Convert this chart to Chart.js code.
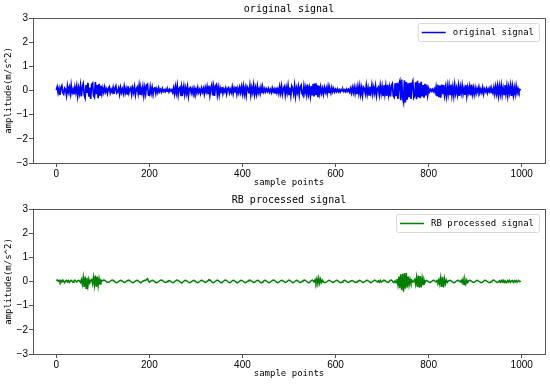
<!DOCTYPE html>
<html><head><meta charset="utf-8">
<script src="https://cdn.jsdelivr.net/npm/chart.js@4/dist/chart.umd.min.js"></script>
<style>
html,body{margin:0;padding:0;background:#fff;width:550px;height:384px;overflow:hidden}
.box{position:absolute;left:0;width:550px;height:192px}
</style></head><body>
<div class="box" style="top:0"><canvas id="c1" width="550" height="192"></canvas></div>
<div class="box" style="top:192px"><canvas id="c2" width="550" height="192"></canvas></div>
<script>
// values listed for every 2nd sample point (0, 2, 4, ... 998)
const sampleStep = 2;
const xTicks = [0, 200, 400, 600, 800, 1000];
const yTicks = [-3, -2, -1, 0, 1, 2, 3];
const titles = ["original signal", "RB processed signal"];
const seriesLabels = ["original signal", "RB processed signal"];
const xLabel = "sample points";
const yLabel = "amplitude(m/s^2)";

const originalSignal = [
 0.02, 0.15,-0.10, 0.08,-0.18, 0.12, 0.20,-0.08,-0.15, 0.10, 0.05,-0.20, 0.18,-0.06, 0.12,-0.14, 0.22,-0.10, 0.04,-0.16, 0.14,-0.08, 0.18,-0.22, 0.10,
-0.12, 0.20,-0.25, 0.15, 0.28,-0.18,-0.30, 0.22,-0.10, 0.32,-0.26, 0.12,-0.35, 0.25, 0.30,-0.20,-0.28, 0.35,-0.15, 0.22,-0.32, 0.28,-0.18, 0.20,-0.12,
 0.10,-0.08, 0.14,-0.05, 0.06,-0.12, 0.08, 0.15,-0.10, 0.04,-0.06, 0.12,-0.14, 0.08, 0.18,-0.10,-0.04, 0.10,-0.15, 0.12,-0.08, 0.06,-0.12, 0.16,-0.10,
 0.08,-0.14, 0.18,-0.10, 0.05, 0.12,-0.16, 0.10,-0.08, 0.15,-0.18, 0.06, 0.14,-0.12, 0.20,-0.15, 0.08,-0.10, 0.16,-0.20, 0.12,-0.14, 0.22, 0.26,-0.18,
-0.20, 0.15,-0.10, 0.12,-0.16, 0.08, 0.14,-0.12, 0.06,-0.08, 0.10,-0.05, 0.04,-0.06, 0.08,-0.04, 0.02,-0.05, 0.06,-0.03, 0.04,-0.06, 0.05,-0.02, 0.03,
-0.08, 0.10,-0.14, 0.16,-0.10, 0.20,-0.18, 0.08, 0.14,-0.20, 0.12,-0.06, 0.18,-0.16, 0.10,-0.12, 0.15,-0.22, 0.08, 0.12,-0.10, 0.06,-0.14, 0.10,-0.08,
 0.06,-0.10, 0.12,-0.08, 0.04,-0.12, 0.10,-0.06, 0.08,-0.14, 0.12,-0.05, 0.16,-0.12, 0.20,-0.18, 0.10, 0.24,-0.20, 0.15,-0.22, 0.18, 0.25,-0.16, 0.12,
-0.18, 0.10,-0.08, 0.14,-0.12, 0.06,-0.05, 0.10,-0.14, 0.08, 0.12,-0.10, 0.04,-0.08, 0.14,-0.12, 0.10,-0.06, 0.16,-0.14, 0.08,-0.10, 0.12,-0.08, 0.15,
-0.12, 0.18,-0.15, 0.10,-0.20, 0.16, 0.08,-0.12, 0.20,-0.18, 0.12,-0.08, 0.22,-0.16, 0.10,-0.14, 0.18,-0.10, 0.06,-0.12, 0.14,-0.08, 0.10,-0.06, 0.08,
-0.05, 0.06,-0.04, 0.08,-0.06, 0.04,-0.08, 0.10,-0.05, 0.06,-0.10, 0.12,-0.08, 0.06,-0.12, 0.15,-0.10, 0.18,-0.14, 0.08, 0.16,-0.18, 0.12,-0.10, 0.20,
-0.16, 0.12,-0.20, 0.18, 0.08,-0.14, 0.20,-0.22, 0.10,-0.08, 0.16,-0.18, 0.14, 0.22,-0.12,-0.20, 0.18,-0.10, 0.12,-0.16, 0.24,-0.14, 0.10,-0.22, 0.18,
-0.20, 0.28,-0.25, 0.30,-0.18, 0.22,-0.28, 0.20,-0.12, 0.14,-0.10, 0.08,-0.15, 0.12,-0.06, 0.10,-0.12, 0.16,-0.08, 0.06,-0.10, 0.12,-0.05, 0.08,-0.06,
 0.05,-0.04, 0.06,-0.05, 0.03,-0.06, 0.04,-0.02, 0.05,-0.04, 0.03,-0.05, 0.06,-0.03, 0.04,-0.06, 0.08,-0.10, 0.12,-0.08, 0.14,-0.12, 0.10,-0.15, 0.16,
-0.12, 0.18,-0.16, 0.10,-0.20, 0.14, 0.08,-0.12, 0.20,-0.15, 0.10,-0.18, 0.16,-0.08, 0.22,-0.14, 0.12,-0.10, 0.18,-0.20, 0.08, 0.14,-0.16, 0.20,-0.12,
 0.16,-0.20, 0.22,-0.14, 0.18,-0.22, 0.24,-0.16, 0.12,-0.25, 0.20, 0.28,-0.22,-0.28, 0.30,-0.20, 0.32,-0.35, 0.25, 0.38,-0.40, 0.45,-0.30,-0.48, 0.42,
-0.50, 0.35,-0.38, 0.30,-0.28, 0.32,-0.35, 0.25, 0.38,-0.30,-0.22, 0.34,-0.36, 0.40,-0.28, 0.30,-0.32, 0.36,-0.25, 0.22,-0.30, 0.28,-0.20, 0.24,-0.18,
 0.08,-0.05, 0.04,-0.03, 0.05,-0.04, 0.06,-0.08, 0.15,-0.20, 0.24,-0.28, 0.20,-0.30, 0.25,-0.15, 0.22,-0.18, 0.12,-0.22, 0.18,-0.14, 0.20,-0.16, 0.24,
-0.18, 0.14,-0.20, 0.22,-0.12, 0.10,-0.16, 0.18,-0.22, 0.15,-0.10, 0.20,-0.14, 0.08,-0.18, 0.22,-0.20, 0.12,-0.08, 0.16,-0.20, 0.24,-0.14, 0.10,-0.16,
 0.10,-0.12, 0.08,-0.06, 0.14,-0.10, 0.05,-0.08, 0.12,-0.14, 0.06,-0.04, 0.08,-0.10, 0.06,-0.05, 0.10,-0.08, 0.04,-0.10, 0.12,-0.14, 0.16,-0.12, 0.18,
-0.20, 0.16,-0.14, 0.20,-0.18, 0.10,-0.16, 0.22,-0.12, 0.18,-0.20, 0.14,-0.10, 0.20,-0.22, 0.16,-0.18, 0.12,-0.14, 0.18,-0.10, 0.08,-0.06, 0.04, 0.02
];

const processedSignal = [
 0.04, 0.06, 0.01, 0.05,-0.03, 0.04,-0.02, 0.06, 0.00,-0.05, 0.03, 0.05,-0.02, 0.04,-0.04, 0.02, 0.05, 0.01,-0.03, 0.04, 0.06, 0.02,-0.02, 0.03, 0.05,
 0.02,-0.04, 0.08,-0.12, 0.18,-0.22, 0.20,-0.28, 0.15,-0.18, 0.10,-0.06, 0.05, 0.08,-0.10, 0.18,-0.15, 0.25,-0.22, 0.20,-0.18, 0.12,-0.10, 0.06, 0.02,
 0.04, 0.06, 0.05, 0.02,-0.01,-0.03,-0.04,-0.02, 0.01, 0.04, 0.06, 0.05, 0.02,-0.02,-0.04,-0.05,-0.03, 0.00, 0.03, 0.05, 0.04, 0.01,-0.02,-0.04,-0.03,
 0.00, 0.03, 0.05, 0.06, 0.03, 0.00,-0.03,-0.05,-0.04,-0.01, 0.02, 0.04, 0.05, 0.03,-0.01,-0.03,-0.04,-0.02, 0.01, 0.03, 0.05, 0.04, 0.08, 0.12, 0.02,
-0.02, 0.00, 0.03, 0.05, 0.04, 0.01,-0.02,-0.04,-0.05,-0.03, 0.00, 0.03, 0.05, 0.06, 0.04, 0.01,-0.02,-0.04,-0.03,-0.01, 0.02, 0.04, 0.03, 0.00,-0.03,
-0.05,-0.04,-0.01, 0.02, 0.05, 0.06, 0.04, 0.01,-0.02,-0.04,-0.05,-0.02, 0.01, 0.04, 0.05, 0.03, 0.00,-0.03,-0.05,-0.04,-0.01, 0.02, 0.04, 0.05, 0.02,
-0.01,-0.04,-0.05,-0.03, 0.00, 0.03, 0.05, 0.04, 0.01,-0.02,-0.04,-0.03, 0.00, 0.04, 0.07, 0.06, 0.03,-0.01,-0.04,-0.05,-0.02, 0.01, 0.04, 0.06, 0.04,
 0.01,-0.02,-0.05,-0.04,-0.01, 0.02, 0.05, 0.06, 0.03, 0.00,-0.03,-0.05,-0.04,-0.01, 0.03, 0.05, 0.04, 0.01,-0.02,-0.04,-0.05,-0.02, 0.01, 0.04, 0.05,
 0.03, 0.00,-0.03,-0.05,-0.04,-0.01, 0.02, 0.05, 0.06, 0.04, 0.01,-0.02,-0.04,-0.03, 0.00, 0.03, 0.05, 0.04, 0.01,-0.03,-0.05,-0.04,-0.01, 0.03, 0.05,
 0.04, 0.01,-0.02,-0.04,-0.05,-0.02, 0.01, 0.04, 0.06, 0.05, 0.02,-0.01,-0.04,-0.05,-0.03, 0.00, 0.03, 0.05, 0.04, 0.01,-0.02,-0.04,-0.03, 0.00, 0.04,
 0.06, 0.04, 0.01,-0.02,-0.05,-0.04,-0.01, 0.02, 0.05, 0.04, 0.01,-0.03,-0.05,-0.03, 0.00, 0.03, 0.05, 0.06, 0.03, 0.00,-0.03,-0.05,-0.04, 0.00, 0.04,
 0.06, 0.03,-0.02, 0.08,-0.06, 0.12,-0.10, 0.14,-0.08, 0.10,-0.04, 0.05,-0.02,-0.04,-0.05,-0.03, 0.00, 0.03, 0.05, 0.04, 0.01,-0.02,-0.04,-0.03, 0.00,
 0.03, 0.05, 0.04, 0.01,-0.02,-0.04,-0.05,-0.02, 0.01, 0.04, 0.05, 0.03, 0.00,-0.03,-0.04,-0.02, 0.01, 0.03, 0.04, 0.02,-0.01,-0.03,-0.04,-0.02, 0.01,
 0.03, 0.05, 0.03, 0.00,-0.03,-0.04,-0.02, 0.01, 0.04, 0.05, 0.03, 0.00,-0.03,-0.05,-0.03, 0.00, 0.03, 0.06, 0.04, 0.01,-0.02, 0.03,-0.03, 0.05,-0.02,
 0.00, 0.03, 0.05, 0.04, 0.01,-0.02,-0.04,-0.03, 0.02, 0.05, 0.06, 0.02,-0.03,-0.04, 0.03,-0.05, 0.10,-0.15, 0.20,-0.28, 0.30,-0.35, 0.32,-0.42, 0.35,
-0.30, 0.35,-0.25, 0.20,-0.15, 0.10,-0.06, 0.04,-0.03, 0.02, 0.08,-0.12, 0.18,-0.22, 0.25,-0.26, 0.22,-0.25, 0.15,-0.12, 0.08,-0.04, 0.03, 0.05, 0.02,
-0.02,-0.04,-0.03, 0.00, 0.03, 0.05, 0.04, 0.01,-0.02, 0.04,-0.04, 0.08,-0.12, 0.16,-0.22, 0.18,-0.25, 0.12,-0.10, 0.06,-0.04, 0.02, 0.04, 0.05, 0.03,
 0.00,-0.03,-0.05,-0.04,-0.01, 0.02, 0.05, 0.04, 0.01,-0.02, 0.05,-0.06, 0.10,-0.12, 0.08,-0.10, 0.06,-0.04, 0.03, 0.05, 0.04, 0.01,-0.02,-0.04,-0.03,
 0.00, 0.03, 0.05, 0.04, 0.01,-0.02,-0.04,-0.05,-0.02, 0.01, 0.04, 0.05, 0.03, 0.00,-0.03,-0.05,-0.04,-0.01, 0.02, 0.05, 0.06, 0.03, 0.00,-0.03,-0.04,
-0.02, 0.03,-0.03, 0.04,-0.02, 0.05,-0.04, 0.03, 0.01,-0.04, 0.04,-0.02, 0.05,-0.03, 0.02, 0.04,-0.04, 0.03,-0.02, 0.04,-0.03, 0.02, 0.03,-0.01, 0.02
];

const MONO = '"DejaVu Sans Mono", monospace';
const SANS = '"Liberation Sans", Arial, sans-serif';
const fmt = v => (v < 0 ? '\u2212' + Math.abs(v) : String(v));
const FRAME = '#555';

const deco = {
  id: 'deco',
  afterDraw(chart, args, o) {
    const ctx = chart.ctx, a = chart.chartArea;
    ctx.save();
    ctx.strokeStyle = FRAME; ctx.lineWidth = 1;
    ctx.strokeRect(Math.round(a.left) + 0.5, Math.round(a.top) + 0.5, Math.round(a.right - a.left), Math.round(a.bottom - a.top));
    const cx = (a.left + a.right) / 2;
    ctx.fillStyle = '#000';
    ctx.textAlign = 'center'; ctx.textBaseline = 'middle';
    ctx.font = '10px ' + MONO;
    ctx.fillText(o.title, cx, a.top - 9);
    ctx.font = '9px ' + MONO;
    ctx.fillText(xLabel, cx, a.bottom + 20);
    ctx.save();
    ctx.translate(9, (a.top + a.bottom) / 2);
    ctx.rotate(-Math.PI / 2);
    ctx.fillText(yLabel, 0, 0);
    ctx.restore();
    const ds = chart.data.datasets[0];
    ctx.font = '9px ' + MONO;
    const tw = ctx.measureText(ds.label).width;
    const w = 4 + 24 + 7 + tw + 5, h = 18;
    const bx = a.right - 6 - w, by = a.top + 5;
    ctx.beginPath();
    if (ctx.roundRect) ctx.roundRect(bx + 0.5, by + 0.5, w, h, 2); else ctx.rect(bx + 0.5, by + 0.5, w, h);
    ctx.fillStyle = 'rgba(255,255,255,0.8)'; ctx.fill();
    ctx.strokeStyle = '#d8d8d8'; ctx.stroke();
    ctx.beginPath();
    ctx.strokeStyle = ds.borderColor; ctx.lineWidth = 1.5;
    ctx.moveTo(bx + 4, by + h / 2 + 0.5); ctx.lineTo(bx + 28, by + h / 2 + 0.5); ctx.stroke();
    ctx.fillStyle = '#000'; ctx.textAlign = 'left';
    ctx.fillText(ds.label, bx + 35, by + h / 2 + 1);
    ctx.restore();
  }
};

function makeChart(id, values, label, color, title, padTop, xH, lw) {
  const pts = values.map((v, i) => ({ x: i * sampleStep, y: v }));
  return new Chart(document.getElementById(id), {
    type: 'line',
    data: { datasets: [{ label, data: pts, borderColor: color, borderWidth: lw, pointRadius: 0, tension: 0, fill: false }] },
    plugins: [deco],
    options: {
      responsive: false, animation: false, devicePixelRatio: 1,
      layout: { padding: { left: 0, right: 5, top: padTop, bottom: 0 } },
      plugins: { legend: { display: false }, tooltip: { enabled: false }, title: { display: false }, deco: { title } },
      scales: {
        x: {
          type: 'linear', min: -50, max: 1050,
          afterBuildTicks: s => { s.ticks = xTicks.map(v => ({ value: v })); },
          afterFit: s => { s.height = xH; },
          ticks: { font: { family: SANS, size: 10 }, color: '#000', padding: 1, maxRotation: 0, autoSkip: false, callback: fmt },
          grid: { display: true, drawOnChartArea: false, drawTicks: true, tickLength: 4, tickColor: FRAME },
          border: { display: true, color: FRAME }
        },
        y: {
          type: 'linear', min: -3, max: 3,
          afterBuildTicks: s => { s.ticks = yTicks.map(v => ({ value: v })); },
          afterFit: s => { s.width = 33; },
          ticks: { font: { family: SANS, size: 10 }, color: '#000', padding: 1, autoSkip: false, callback: fmt },
          grid: { display: true, drawOnChartArea: false, drawTicks: true, tickLength: 4, tickColor: FRAME },
          border: { display: true, color: FRAME }
        }
      }
    }
  });
}

makeChart('c1', originalSignal, seriesLabels[0], '#0000ff', titles[0], 18, 29, 1.7);
makeChart('c2', processedSignal, seriesLabels[1], '#008000', titles[1], 17, 30, 1.5);
</script>
</body></html>
